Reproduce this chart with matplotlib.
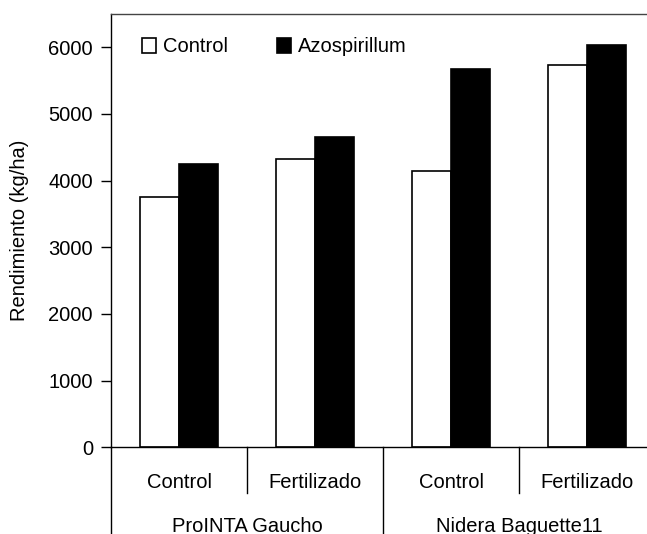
import numpy as np
import matplotlib.pyplot as plt

plt.rcParams['font.family'] = ['Liberation Sans', 'DejaVu Sans']
fs = 14.5

# Data
tratamientos = ['Control', 'Fertilizado', 'Control', 'Fertilizado']
cultivares = ['ProINTA Gaucho', 'Nidera Baguette11']
control = [3760, 4330, 4150, 5740]
azospirillum = [4250, 4660, 5680, 6030]
yticks = [0, 1000, 2000, 3000, 4000, 5000, 6000]

W, H = 647, 534
fig = plt.figure(figsize=(W/100, H/100), dpi=100)
ax = fig.add_axes([111/W, (H-447.3)/H, (655-111)/W, (447.3-14)/H])

x = np.arange(len(tratamientos))
bw = 0.29
ax.bar(x - bw/2, control, bw, color='white', edgecolor='black', linewidth=1.2, label='Control')
ax.bar(x + bw/2, azospirillum, bw, color='black', edgecolor='black', linewidth=1.2, label='Azospirillum')

ax.set_xlim(-0.5, 3.5)
ax.set_ylim(0, 6500)
ax.set_yticks(yticks)
ax.tick_params(axis='y', direction='out', length=7, width=1, pad=6, labelsize=fs)
ax.set_xticks([])
ax.set_ylabel('Rendimiento (kg/ha)', fontsize=fs, labelpad=14)
ax.spines['right'].set_visible(False)
for s in ['left', 'top', 'bottom']:
    ax.spines[s].set_linewidth(1)
ax.spines['top'].set_color('#444444')

# category axis below
tr = ax.get_xaxis_transform()
ah = 447.3 - 14
y_sub = (447.3 - 482) / ah
y_sep = (447.3 - 493) / ah
y_grp = (447.3 - 526) / ah
y_bot = (447.3 - 540) / ah
for i, t in enumerate(tratamientos):
    ax.text(x[i], y_sub, t, transform=tr, ha='center', va='center', fontsize=fs)
for xs in [0.5, 2.5]:
    ax.plot([xs, xs], [0, y_sep], transform=tr, color='black', lw=1, clip_on=False)
for xs in [-0.5, 1.5, 3.5]:
    ax.plot([xs, xs], [0, y_bot], transform=tr, color='black', lw=1, clip_on=False)
for j, c in enumerate(cultivares):
    ax.text(2*j + 0.5, y_grp, c, transform=tr, ha='center', va='center', fontsize=fs)

ax.legend(loc='center left', bbox_to_anchor=(141.7/W, 1 - 47/H), bbox_transform=fig.transFigure,
          ncol=2, frameon=False, fontsize=fs, handlelength=0.7, handleheight=0.7,
          handletextpad=0.35, columnspacing=2.45, borderpad=0, borderaxespad=0)

fig.savefig('out.png', dpi=100)
